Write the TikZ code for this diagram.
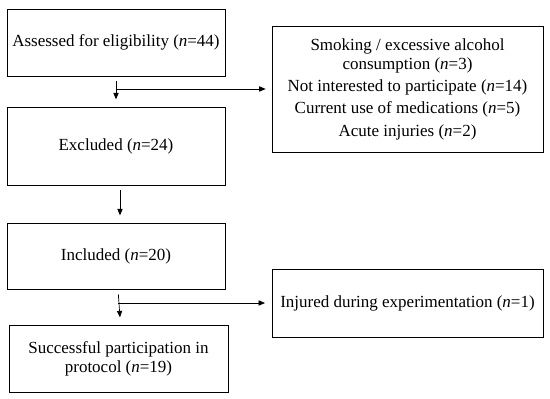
\documentclass[tikz,border=0pt]{standalone}
\usepackage{fontspec}
\setmainfont{Liberation Serif}
\usetikzlibrary{arrows.meta,positioning}

\begin{document}
\begin{tikzpicture}[
  x=0.03cm, y=-0.03cm,
  font=\fontsize{14.5}{16.5}\selectfont,
  >={Triangle[length=5.5pt,width=4.5pt]},
  every path/.style={line width=0.6pt},
  flow/.style ={draw,rectangle,minimum width=6.54cm,minimum height=2.01cm,
                align=center,inner sep=2pt},
  side/.style ={draw,rectangle,minimum width=8.13cm,minimum height=2.04cm,
                align=center,inner sep=2pt},
  link/.style ={->,shorten <=0.15cm,shorten >=0.22cm},
]
\useasboundingbox (0,0) rectangle (550,399);

%% =====================================================
%%  Main flow (left column)
%% =====================================================
\node[flow]                       (elig) at (116,42.5) {Assessed for eligibility (\textit{n}=44)};
\node[flow,minimum height=2.34cm] (excl) at (116,146)  {Excluded (\textit{n}=24)};
\node[flow,minimum height=1.98cm] (incl) at (116,256)  {Included (\textit{n}=20)};
\node[flow,minimum width=6.57cm]  (succ) at (118.5,358.5)
      {Successful participation in\\protocol (\textit{n}=19)};

\draw[link] (elig) -- (excl);
\draw[link] ([xshift=0.12cm]excl.south) -- ([xshift=0.12cm]incl.north);
\draw[link] ([xshift=0.06cm]incl.south) -- ([xshift=0.06cm]succ.north);

%% =====================================================
%%  Side branches (right column)
%% =====================================================
\node[side,minimum height=3.78cm] (reasons) at (407.5,89)
      {Smoking / excessive alcohol\\consumption (\textit{n}=3)\\[2.5pt]
       Not interested to participate (\textit{n}=14)\\[2.5pt]
       Current use of medications (\textit{n}=5)\\[2.5pt]
       Acute injuries (\textit{n}=2)};
\node[side] (injured) at (407.5,303) {Injured during experimentation (\textit{n}=1)};

\coordinate (br1) at (116,89);
\coordinate (br2) at (118,303);
\draw[->,shorten >=0.18cm] (br1) -- (reasons);
\draw[->,shorten >=0.2cm]  (br2) -- (injured);

\end{tikzpicture}
\end{document}
